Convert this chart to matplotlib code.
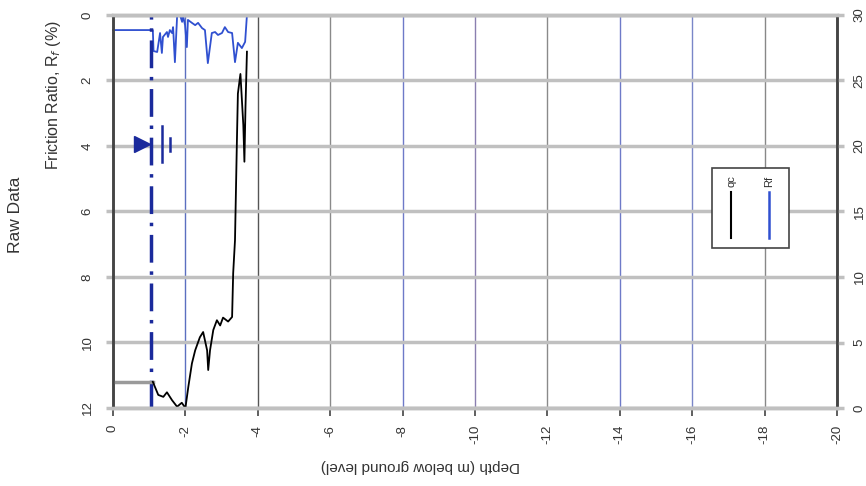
import numpy as np
import matplotlib.pyplot as plt
from matplotlib.patches import Rectangle

plt.rcParams['font.family'] = ['Liberation Sans', 'DejaVu Sans']
plt.rcParams['axes.unicode_minus'] = False

# friction ratio trace (depth in m, Rf in %)
rf_depth = [0, -1.10, -1.12, -1.22, -1.30, -1.35, -1.38, -1.49, -1.52, -1.57,
            -1.63, -1.66, -1.71, -1.77, -1.80, -1.85, -1.91, -1.93, -1.99, -2.04,
            -2.07, -2.18, -2.27, -2.35, -2.46, -2.54, -2.62, -2.73, -2.82, -2.90,
            -3.01, -3.09, -3.18, -3.29, -3.37, -3.45, -3.56, -3.65, -3.70]
rf_vals = [0.46, 0.46, 1.10, 1.13, 0.55, 1.16, 0.67, 0.52, 0.67, 0.46,
           0.55, 0.37, 1.44, 0.06, 0.0, 0.0, 0.21, 0.0, 0.31, 0.98,
           0.15, 0.24, 0.31, 0.24, 0.40, 0.46, 1.47, 0.55, 0.52, 0.61,
           0.55, 0.37, 0.52, 0.55, 1.44, 0.85, 1.01, 0.82, 0.0]

# cone resistance trace (depth in m, qc)
qc_depth = [-1.10, -1.25, -1.39, -1.49, -1.63, -1.77, -1.90, -2.00, -2.08, -2.18,
            -2.27, -2.40, -2.49, -2.60, -2.63, -2.68, -2.77, -2.87, -2.96, -3.04,
            -3.18, -3.29, -3.32, -3.37, -3.42, -3.45, -3.52, -3.60, -3.63, -3.66, -3.70]
qc_vals = [2.0, 1.0, 0.85, 1.2, 0.6, 0.1, 0.4, 0.0, 1.6, 3.4,
           4.4, 5.4, 5.8, 4.4, 2.9, 4.4, 5.95, 6.7, 6.3, 6.9,
           6.6, 6.95, 10.3, 12.8, 20.0, 24.0, 25.5, 21.6, 18.8, 23.0, 27.2]

# pre-drilled part (no qc reading)
pre_depth = [0, -1.10]
pre_qc = [2.0, 2.0]

gwl_depth = -1.05   # groundwater level
gwl_mark = 3.95     # where the symbol sits on the Rf scale

depth_ticks = np.arange(0, -21, -2)
rf_ticks = np.arange(0, 13, 2)
qc_ticks = np.arange(0, 31, 5)
grid_cols = ['#444444', '#5b6fc0', '#555555', '#8a8a8a', '#6e7ac8', '#8a7fb0',
             '#8a8a8a', '#6e7ac8', '#7a86c8', '#888888', '#333333']
txt = '#333333'

fig = plt.figure(figsize=(8.66, 4.86), dpi=100)
ax = fig.add_axes([113/866, 1-408/486, 724/866, 393/486])
ax2 = ax.twinx()

ax.set_xlim(0, -20)
ax.set_ylim(12, 0)
ax2.set_ylim(0, 30)

# grid
ax.set_xticks(depth_ticks)
ax.set_yticks(rf_ticks)
ax2.set_yticks(qc_ticks)
ax.grid(True, axis='y', color='#c0c0c0', lw=2.5)
ax.grid(True, axis='x', lw=1.0)
for gl, c in zip(ax.get_xgridlines(), grid_cols):
    gl.set_color(c)
ax.set_axisbelow(True)

for a in (ax, ax2):
    for s in ('top', 'bottom'):
        a.spines[s].set_color('#c0c0c0')
        a.spines[s].set_linewidth(2.5)
    for s in ('left', 'right'):
        a.spines[s].set_color('#444444')
        a.spines[s].set_linewidth(1.8)

ax.tick_params(axis='y', length=5, width=2.5, color='#c0c0c0', labelsize=9.5,
               labelrotation=90, pad=9, labelcolor=txt)
ax.tick_params(axis='x', length=6, width=1.2, color='#444444', labelsize=9.5,
               labelrotation=90, pad=6, labelcolor=txt)
ax2.tick_params(axis='y', length=5, width=2.5, color='#c0c0c0', labelsize=9.5,
                labelrotation=90, pad=7, labelcolor=txt)
for t in ax.get_yticklabels() + ax2.get_yticklabels():
    t.set_va('center')

ax.set_xlabel('Depth (m below ground level)', rotation=180, fontsize=11,
              color=txt)
ax.xaxis.set_label_coords(0.425, -0.13)

# data
ax2.plot(pre_depth, pre_qc, color='#9a9a9a', lw=2.5)
ax2.plot(qc_depth, qc_vals, color='black', lw=1.3)
ax.plot(rf_depth, rf_vals, color='#3050d0', lw=1.3, clip_on=False)

# groundwater level
ax.axvline(gwl_depth, color='#1a2a9c', lw=2.5, ls=(0, (8, 2.5, 1, 2.5)))
ax.plot([gwl_depth + 0.25], [gwl_mark], marker='>', ms=12, color='#1a2a9c')
ax.plot([gwl_depth - 0.3] * 2, [gwl_mark - 0.55, gwl_mark + 0.55], color='#1a2a9c', lw=1.8)
ax.plot([gwl_depth - 0.52] * 2, [gwl_mark - 0.2, gwl_mark + 0.2], color='#1a2a9c', lw=1.8)

# legend (drawn rotated like the rest of the sheet)
ax.add_patch(Rectangle((0.827, 0.407), 0.107, 0.204, transform=ax.transAxes,
                       facecolor='white', edgecolor='#444444', lw=1.2, zorder=5))
ax.plot([0.854, 0.854], [0.433, 0.55], transform=ax.transAxes, color='black',
        lw=1.5, zorder=6)
ax.plot([0.906, 0.906], [0.433, 0.55], transform=ax.transAxes, color='#3050d0',
        lw=1.8, zorder=6)
ax.text(0.854, 0.562, 'qc', transform=ax.transAxes, rotation=90, fontsize=8,
        ha='center', va='bottom', zorder=6, color=txt)
ax.text(0.906, 0.562, 'Rf', transform=ax.transAxes, rotation=90, fontsize=8,
        ha='center', va='bottom', zorder=6, color=txt)

fig.text(54/866, 1-95/486, 'Friction Ratio, R$_f$ (%)', rotation=90, fontsize=11.5,
         ha='center', va='center', color=txt)
fig.text(16/866, 1-215/486, 'Raw Data', rotation=90, fontsize=12.5,
         ha='center', va='center', color=txt)

fig.savefig('out.png', dpi=100)
